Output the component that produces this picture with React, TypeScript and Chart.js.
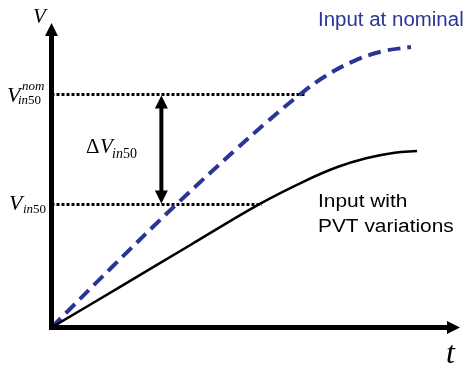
import React, { useEffect, useRef } from "react";
import { Chart, registerables } from "chart.js";

Chart.register(...registerables);

// Abstract time axis (0..100) and voltage axis (0..100)
const nominalT = [0, 15, 30.7, 45, 53, 60.8, 67, 74, 81, 88];
const nominalV = [0, 20.1, 40.6, 58.3, 67.8, 76.5, 82.5, 87.5, 90.7, 92.1];
const pvtT = [0, 17, 34, 51, 62, 70, 77, 84, 89.5];
const pvtV = [0, 13.5, 27.1, 40.6, 48.1, 52.7, 55.6, 57.4, 58.0];

const vin50Nom = 76.7;
const vin50 = 40.6;
const vin50NomReachT = 62.2;
const vin50ReachT = 51.5;
const deltaArrowT = 26.9;

const BLUE = "#2B3595";

function arrowHead(ctx: CanvasRenderingContext2D, tipX: number, tipY: number, dir: "up" | "down" | "right", len: number, half: number) {
  ctx.beginPath();
  if (dir === "up") {
    ctx.moveTo(tipX, tipY);
    ctx.lineTo(tipX - half, tipY + len);
    ctx.lineTo(tipX + half, tipY + len);
  } else if (dir === "down") {
    ctx.moveTo(tipX, tipY);
    ctx.lineTo(tipX - half, tipY - len);
    ctx.lineTo(tipX + half, tipY - len);
  } else {
    ctx.moveTo(tipX, tipY);
    ctx.lineTo(tipX - len, tipY - half);
    ctx.lineTo(tipX - len, tipY + half);
  }
  ctx.closePath();
  ctx.fill();
}

function stretchText(ctx: CanvasRenderingContext2D, text: string, x: number, y: number, sx: number) {
  ctx.save();
  ctx.translate(x, y);
  ctx.scale(sx, 1);
  ctx.fillText(text, 0, 0);
  ctx.restore();
}

const decor = {
  id: "decor",
  beforeDatasetsDraw(chart: any) {
    const { ctx, scales } = chart;
    const xs = scales.x, ys = scales.y;
    ctx.save();
    ctx.strokeStyle = "#000";
    ctx.lineWidth = 3;
    ctx.setLineDash([3, 2]);
    ctx.lineCap = "butt";
    const y1 = Math.round(ys.getPixelForValue(vin50Nom)) + 0.5;
    ctx.beginPath();
    ctx.moveTo(xs.getPixelForValue(0), y1);
    ctx.lineTo(xs.getPixelForValue(vin50NomReachT), y1);
    ctx.stroke();
    const y2 = Math.round(ys.getPixelForValue(vin50)) + 0.5;
    ctx.beginPath();
    ctx.moveTo(xs.getPixelForValue(0), y2);
    ctx.lineTo(xs.getPixelForValue(vin50ReachT), y2);
    ctx.stroke();
    ctx.setLineDash([]);

    // delta arrow
    const ax = xs.getPixelForValue(deltaArrowT);
    ctx.fillStyle = "#000";
    ctx.lineWidth = 4;
    ctx.beginPath();
    ctx.moveTo(ax, y1 + 10);
    ctx.lineTo(ax, y2 - 10);
    ctx.stroke();
    arrowHead(ctx, ax, y1 + 1, "up", 13, 6.5);
    arrowHead(ctx, ax, y2 - 1, "down", 13, 6.5);
    ctx.restore();
  },
  afterDatasetsDraw(chart: any) {
    const { ctx, scales, chartArea } = chart;
    const xs = scales.x, ys = scales.y;
    const ox = xs.getPixelForValue(0);
    const oy = ys.getPixelForValue(0);
    ctx.save();
    ctx.strokeStyle = "#000";
    ctx.fillStyle = "#000";
    ctx.lineWidth = 5;
    ctx.lineCap = "butt";
    ctx.beginPath();
    ctx.moveTo(ox, oy + 2.5);
    ctx.lineTo(ox, chartArea.top + 12);
    ctx.stroke();
    ctx.beginPath();
    ctx.moveTo(ox - 2.5, oy);
    ctx.lineTo(chartArea.right - 12, oy);
    ctx.stroke();
    arrowHead(ctx, ox, chartArea.top, "up", 13, 6.5);
    arrowHead(ctx, chartArea.right, oy, "right", 13, 6.5);

    // texts
    ctx.textBaseline = "alphabetic";
    ctx.textAlign = "left";
    const serif = '"Liberation Serif", "Times New Roman", serif';
    const sans = '"Liberation Sans", Arial, sans-serif';

    ctx.font = `italic 21px ${serif}`;
    ctx.fillText("V", 33, 23);

    // V_in50^nom
    ctx.font = `italic 22px ${serif}`;
    ctx.fillText("V", 7, 102);
    ctx.font = `italic 13px ${serif}`;
    ctx.fillText("nom", 22, 90);
    ctx.font = `italic 13px ${serif}`;
    ctx.fillText("in", 18, 104);
    ctx.font = `13px ${serif}`;
    ctx.fillText("50", 28, 104);

    // V_in50
    ctx.font = `italic 22px ${serif}`;
    ctx.fillText("V", 9, 210);
    ctx.font = `italic 13px ${serif}`;
    ctx.fillText("in", 23, 213);
    ctx.font = `13px ${serif}`;
    ctx.fillText("50", 33, 213);

    // Delta V_in50
    ctx.font = `21px ${serif}`;
    ctx.fillText("\u0394", 86, 153);
    ctx.font = `italic 21px ${serif}`;
    ctx.fillText("V", 100, 153);
    ctx.font = `italic 14px ${serif}`;
    ctx.fillText("in", 112, 158);
    ctx.font = `14px ${serif}`;
    ctx.fillText("50", 123, 158);

    // t
    ctx.font = `italic 32px ${serif}`;
    ctx.fillText("t", 446, 363);

    ctx.font = `19.5px ${sans}`;
    ctx.fillStyle = BLUE;
    stretchText(ctx, "Input at nominal", 318, 26, 1.05);
    ctx.fillStyle = "#000";
    ctx.font = `18px ${sans}`;
    stretchText(ctx, "Input with", 318, 207, 1.16);
    stretchText(ctx, "PVT variations", 318, 232, 1.16);
    ctx.restore();
  },
};

export default function App() {
  const ref = useRef<HTMLCanvasElement>(null);
  useEffect(() => {
    document.body.style.margin = "0";
    const chart = new Chart(ref.current!, {
      type: "line",
      data: {
        datasets: [
          {
            label: "Input with PVT variations",
            data: pvtT.map((t, i) => ({ x: t, y: pvtV[i] })),
            borderColor: "#000",
            borderWidth: 2.5,
            pointRadius: 0,
            tension: 0.4,
            fill: false,
          },
          {
            label: "Input at nominal",
            data: nominalT.map((t, i) => ({ x: t, y: nominalV[i] })),
            borderColor: BLUE,
            borderWidth: 4,
            borderDash: [13, 7],
            borderCapStyle: "butt",
            pointRadius: 0,
            tension: 0.4,
            fill: false,
          },
        ],
      },
      options: {
        animation: false,
        responsive: false,
        maintainAspectRatio: false,
        layout: { padding: { left: 51.5, right: 8, top: 23, bottom: 37.5 } },
        plugins: { legend: { display: false }, tooltip: { enabled: false } },
        scales: {
          x: { type: "linear", min: 0, max: 100, display: false },
          y: { type: "linear", min: 0, max: 100, display: false },
        },
      },
      plugins: [decor],
    });
    return () => chart.destroy();
  }, []);
  return (
    <div style={{ position: "fixed", left: 0, top: 0, width: 468, height: 365, background: "#fff" }}>
      <canvas ref={ref} width={468} height={365} style={{ width: 468, height: 365 }} />
    </div>
  );
}
